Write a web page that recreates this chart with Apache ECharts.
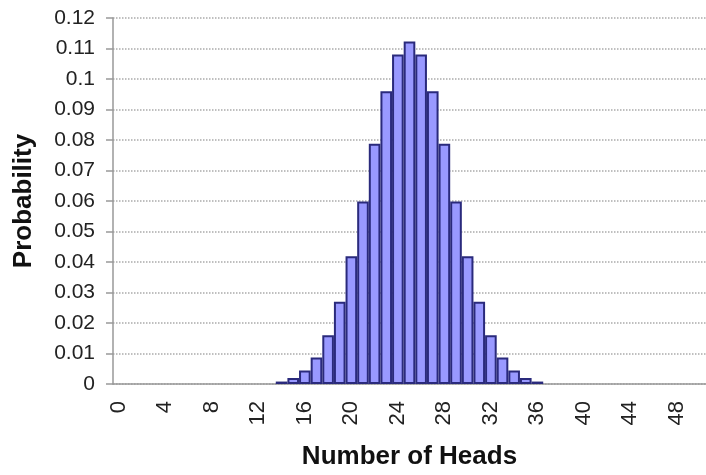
<!DOCTYPE html>
<html lang="en">
<head>
<meta charset="UTF-8">
<title>Number of Heads</title>
<script src="https://cdn.jsdelivr.net/npm/echarts@6/dist/echarts.min.js"></script>
<style>
  body { margin: 0; padding: 0; background: #fff; }
  #main { width: 706px; height: 475px; }
</style>
</head>
<body>
<div id="main"></div>
<script>
// number of heads, 0..50
var heads = [];
for (var i = 0; i <= 50; i++) heads.push(String(i));

// probability
var prob = [
  0, 0, 0, 0, 0, 0, 0, 0, 0, 0,
  0, 0, 0, 0, 0.0008, 0.002, 0.0044, 0.0087, 0.016, 0.027,
  0.0419, 0.0598, 0.0788, 0.096, 0.108, 0.1123, 0.108, 0.096, 0.0788, 0.0598,
  0.0419, 0.027, 0.016, 0.0087, 0.0044, 0.002, 0.0008, 0, 0, 0,
  0, 0, 0, 0, 0, 0, 0, 0, 0, 0,
  0
];

var chart = echarts.init(document.getElementById('main'));
var font = 'Liberation Sans, Arial, sans-serif';

chart.setOption({
  animation: false,
  grid: { left: 113, right: -7, top: 18, bottom: 88 },
  xAxis: {
    type: 'category',
    data: heads,
    name: 'Number of Heads',
    nameLocation: 'middle',
    nameGap: 60,
    nameTextStyle: { fontFamily: font, fontSize: 26, fontWeight: 'bold', color: '#111' },
    axisLine: { lineStyle: { color: '#999', width: 1.5 } },
    axisTick: { interval: 0, length: 8, lineStyle: { color: '#999', width: 1.5 } },
    axisLabel: {
      interval: 3, rotate: 90, margin: 17,
      fontFamily: font, fontSize: 22, color: '#222'
    }
  },
  yAxis: {
    type: 'value',
    min: 0, max: 0.12, interval: 0.01,
    name: 'Probability',
    nameLocation: 'middle',
    nameGap: 76,
    nameTextStyle: { fontFamily: font, fontSize: 26, fontWeight: 'bold', color: '#111' },
    axisLine: { show: true, lineStyle: { color: '#999', width: 1.5 } },
    axisTick: { show: true, length: 7, lineStyle: { color: '#999', width: 1.5 } },
    axisLabel: { margin: 18, fontFamily: font, fontSize: 21, color: '#222' },
    splitLine: { lineStyle: { color: '#aaa', type: 'dotted', width: 1.5 } }
  },
  series: [{
    type: 'bar',
    data: prob.map(function (v) { return v === 0 ? '-' : v; }),
    barCategoryGap: 0,
    itemStyle: { color: '#9999ff', borderColor: '#2a2a7c', borderWidth: 2 }
  }]
});
</script>
</body>
</html>
